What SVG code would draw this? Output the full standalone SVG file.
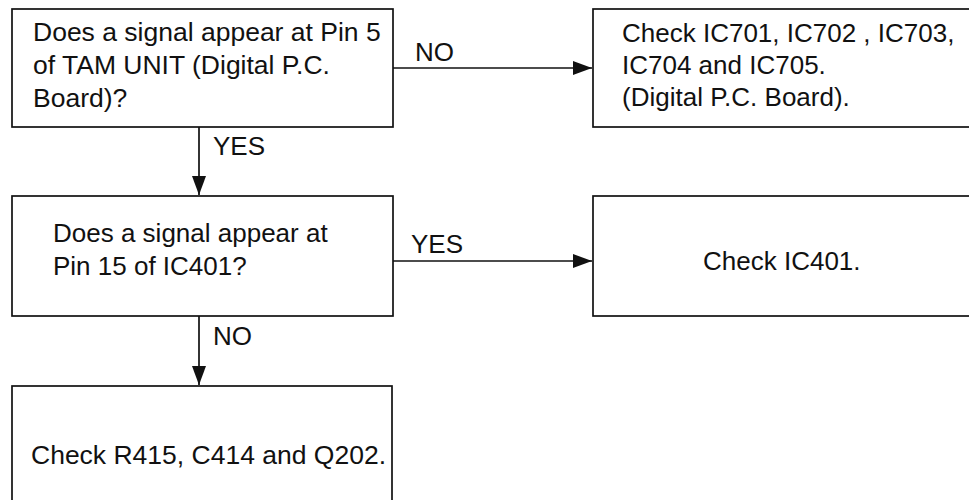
<svg xmlns="http://www.w3.org/2000/svg" width="969" height="500" viewBox="0 0 969 500">
<style>
.box{fill:#fff;stroke:#111;stroke-width:1.7}
.t{font-family:"Liberation Sans",Arial,sans-serif;font-size:26.5px;fill:#111}
.s{font-size:26px}
.c{stroke:#111;stroke-width:1.7;fill:none}
</style>
<defs>
<marker id="ah" markerUnits="userSpaceOnUse" markerWidth="20" markerHeight="16" refX="19" refY="8" orient="auto">
<path d="M0,1 L19,8 L0,15 Z" fill="#111"/>
</marker>
</defs>
<rect width="969" height="500" fill="#fff"/>
<g id="connectors">
<line class="c" x1="393" y1="68" x2="592" y2="68" marker-end="url(#ah)"/>
<text class="t s" x="415" y="61">NO</text>
<line class="c" x1="199" y1="127" x2="199" y2="195" marker-end="url(#ah)"/>
<text class="t s" x="213" y="155">YES</text>
<line class="c" x1="393" y1="261" x2="592" y2="261" marker-end="url(#ah)"/>
<text class="t s" x="411" y="253">YES</text>
<line class="c" x1="199" y1="316" x2="199" y2="385" marker-end="url(#ah)"/>
<text class="t s" x="213" y="345">NO</text>
</g>
<g id="q1">
<rect class="box" x="12" y="9" width="381" height="118"/>
<text class="t" x="33" y="41">Does a signal appear at Pin 5</text>
<text class="t" x="33" y="74">of TAM UNIT (Digital P.C.</text>
<text class="t" x="33" y="107">Board)?</text>
</g>
<g id="a1">
<rect class="box" x="593" y="9" width="390" height="118"/>
<text class="t s" x="622" y="42">Check IC701, IC702 , IC703,</text>
<text class="t s" x="622" y="74">IC704 and IC705.</text>
<text class="t s" x="622" y="106">(Digital P.C. Board).</text>
</g>
<g id="q2">
<rect class="box" x="12" y="196" width="381" height="120"/>
<text class="t s" x="53" y="242">Does a signal appear at</text>
<text class="t s" x="53" y="275">Pin 15 of IC401?</text>
</g>
<g id="a2">
<rect class="box" x="593" y="196" width="390" height="120"/>
<text class="t s" x="703" y="270">Check IC401.</text>
</g>
<g id="a3">
<rect class="box" x="12" y="386" width="380" height="125"/>
<text class="t" x="31" y="464">Check R415, C414 and Q202.</text>
</g>
</svg>
